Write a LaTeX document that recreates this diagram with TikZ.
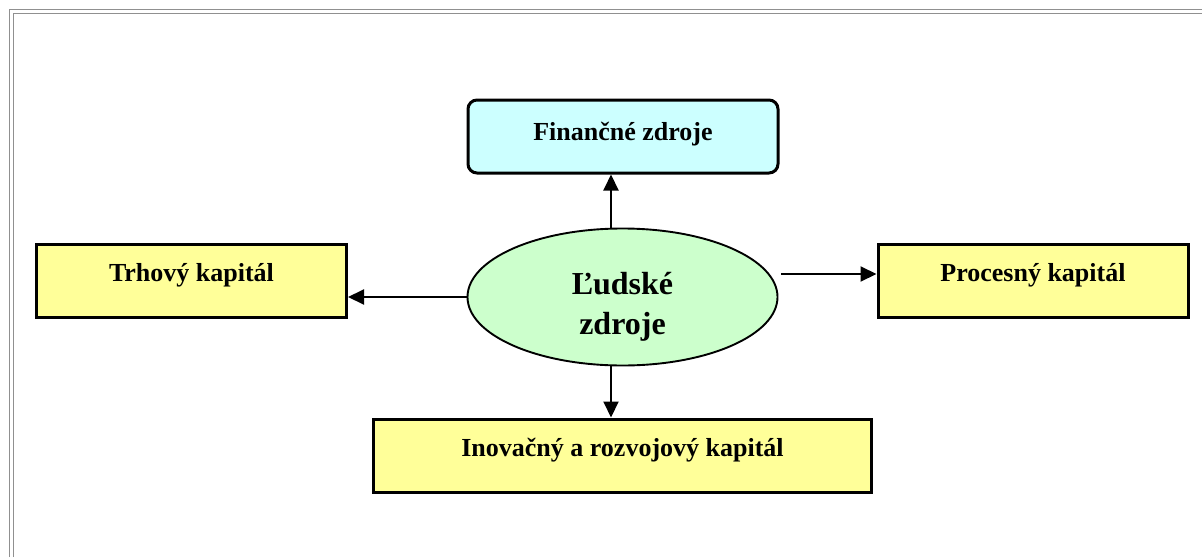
\documentclass[tikz,border=0pt]{standalone}
\usepackage{fontspec}
\setmainfont{Liberation Serif}
\usetikzlibrary{arrows.meta,shapes.geometric}

\definecolor{finfill}{HTML}{CCFFFF}
\definecolor{capfill}{HTML}{FFFF99}
\definecolor{hrfill}{HTML}{CCFFCC}
\definecolor{framegray}{HTML}{909090}

\begin{document}
\begin{tikzpicture}[
    x=1pt, y=-1pt,
    capbox/.style={draw, line width=3pt, fill=capfill, inner sep=0pt,
        minimum width=310pt, text height=37pt, text depth=36pt,
        font=\fontsize{26}{30}\selectfont\bfseries},
    finbox/.style={capbox, fill=finfill, rounded corners=9pt, text depth=33pt, text height=40pt},
    hub/.style={draw, ellipse, line width=1.9pt, fill=hrfill, inner sep=0pt,
        minimum width=310pt, minimum height=137pt, align=center,
        font=\fontsize{32}{40}\selectfont\bfseries},
    link/.style={line width=2pt, -{Triangle[length=16pt,width=15pt]}}
]
\useasboundingbox (0,0) rectangle (1202,557);
% page frame
\draw[framegray, line width=1.8pt] (9.5,557) -- (9.5,9.5) -- (1202,9.5);
\draw[framegray, line width=1.8pt] (13.5,557) -- (13.5,13.5) -- (1202,13.5);

\node[hub] (hr) at (622.5,297) {\rule{0pt}{41pt}Ľudské\\zdroje};
\node[finbox] (fin) at (623,136.5) {Finančné zdroje};
\node[capbox] (market) at (191.5,280.5) {Trhový kapitál};
\node[capbox] (process) at (1033,280.5) {Procesný kapitál};
\node[capbox, minimum width=498pt] (innov) at (622.5,455.5) {Inovačný a rozvojový kapitál};

\coordinate (hrE) at (781,274);
\draw[link] (hr.north -| 611,0) -- (fin.south -| 611,0);
\draw[link] (hr.west) -- (market.east |- hr.west);
\draw[link] (hrE) -- (process.west |- hrE);
\draw[link] (hr.south -| 611,0) -- (innov.north -| 611,0);
\end{tikzpicture}
\end{document}
